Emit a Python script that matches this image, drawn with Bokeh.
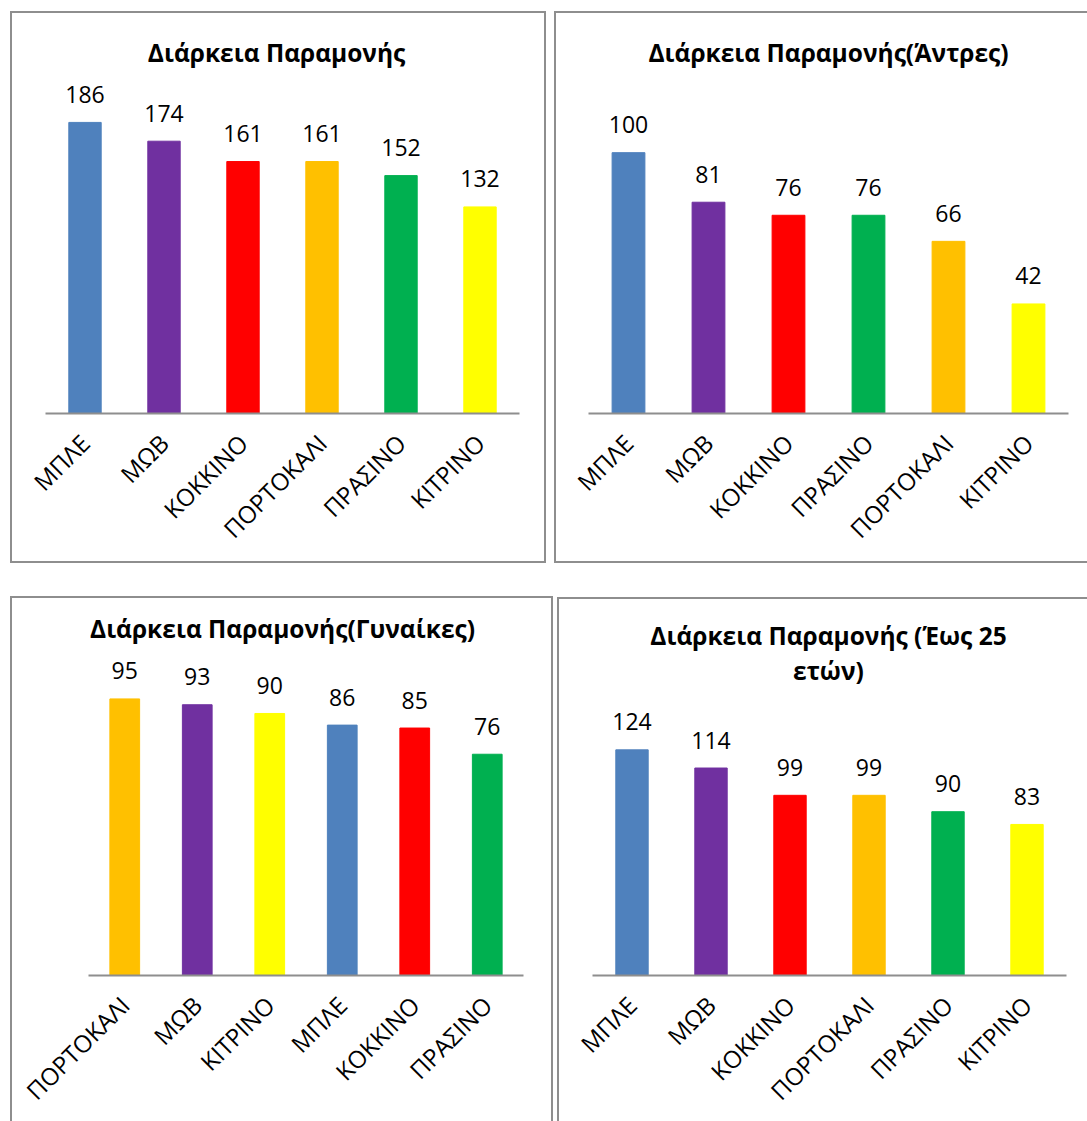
import math

from bokeh.core.properties import value
from bokeh.embed import file_html
from bokeh.layouts import column, row
from bokeh.models import ColumnDataSource, FactorRange, Label, Range1d
from bokeh.plotting import figure
from bokeh.resources import INLINE

FONT = "Open Sans"
EDGE = "2px solid #8e8e8e"

# colour of each category name
colour_names = ["ΜΠΛΕ", "ΜΩΒ", "ΚΟΚΚΙΝΟ", "ΠΟΡΤΟΚΑΛΙ", "ΠΡΑΣΙΝΟ", "ΚΙΤΡΙΝΟ"]
colour_hex = ["#4F81BD", "#7030A0", "#FF0000", "#FFC000", "#00B050", "#FFFF00"]
palette = dict(zip(colour_names, colour_hex))

# total
all_title = "Διάρκεια Παραμονής"
all_cats = ["ΜΠΛΕ", "ΜΩΒ", "ΚΟΚΚΙΝΟ", "ΠΟΡΤΟΚΑΛΙ", "ΠΡΑΣΙΝΟ", "ΚΙΤΡΙΝΟ"]
all_vals = [186, 174, 161, 161, 152, 132]

# men
men_title = "Διάρκεια Παραμονής(Άντρες)"
men_cats = ["ΜΠΛΕ", "ΜΩΒ", "ΚΟΚΚΙΝΟ", "ΠΡΑΣΙΝΟ", "ΠΟΡΤΟΚΑΛΙ", "ΚΙΤΡΙΝΟ"]
men_vals = [100, 81, 76, 76, 66, 42]

# women
women_title = "Διάρκεια Παραμονής(Γυναίκες)"
women_cats = ["ΠΟΡΤΟΚΑΛΙ", "ΜΩΒ", "ΚΙΤΡΙΝΟ", "ΜΠΛΕ", "ΚΟΚΚΙΝΟ", "ΠΡΑΣΙΝΟ"]
women_vals = [95, 93, 90, 86, 85, 76]

# up to 25 years old
young_title = "Διάρκεια Παραμονής (Έως 25\nετών)"
young_cats = ["ΜΠΛΕ", "ΜΩΒ", "ΚΟΚΚΙΝΟ", "ΠΟΡΤΟΚΑΛΙ", "ΠΡΑΣΙΝΟ", "ΚΙΤΡΙΝΟ"]
young_vals = [124, 114, 99, 99, 90, 83]


def panel(title, cats, vals, axis_max, axis_px, size, frame, title_pos,
          title_baseline, margin):
    width, height = size
    left, right, bottom = frame
    # the frame reaches the top of the canvas so the title fits inside it;
    # axis_max spans axis_px pixels above the baseline
    y_end = axis_max * (height - bottom) / axis_px
    p = figure(
        x_range=FactorRange(*cats, range_padding=0),
        y_range=Range1d(0, y_end),
        width=width, height=height,
        min_border_left=left, min_border_right=right,
        min_border_top=0, min_border_bottom=bottom,
        output_backend="svg", toolbar_location=None, tools="",
        background_fill_color="white", border_fill_color="white",
    )
    p.title.visible = False
    p.outline_line_color = None
    p.xgrid.visible = False
    p.ygrid.visible = False
    p.yaxis.visible = False

    src = ColumnDataSource(dict(
        cat=cats, val=vals,
        colour=[palette[c] for c in cats],
        label=[str(v) for v in vals],
    ))
    p.vbar(x="cat", top="val", width=0.41, color="colour", source=src)
    p.text(x="cat", y="val", text="label", source=src,
           text_align="center", text_baseline="alphabetic", y_offset=-28,
           text_font=value(FONT), text_font_size="23px", text_color="black")

    ax = p.xaxis[0]
    ax.axis_line_color = "#8e8e8e"
    ax.axis_line_width = 2
    ax.major_tick_line_color = None
    ax.minor_tick_line_color = None
    ax.major_label_orientation = math.pi / 4
    ax.major_label_standoff = 19
    ax.major_label_text_font = FONT
    ax.major_label_text_font_size = "24px"
    ax.major_label_text_color = "black"

    tx, ty = title_pos
    p.add_layout(Label(
        x=tx, y=ty, x_units="screen", y_units="screen", text=title,
        text_align="center", text_baseline=title_baseline,
        text_font=FONT, text_font_size="24.5px", text_font_style="bold",
        text_color="black", text_line_height=1.08,
    ))

    p.styles = {"outline": EDGE}
    p.margin = margin
    return p


p1 = panel(all_title, all_cats, all_vals, 200, 313,
           (532, 548), (33, 25, 148), (231, 361), "alphabetic",
           (13, 0, 0, 12))
p2 = panel(men_title, men_cats, men_vals, 120, 313,
           (531, 548), (32, 19, 148), (240, 361), "alphabetic",
           (13, 0, 0, 12))
p3 = panel(women_title, women_cats, women_vals, 100, 295,
           (539, 523), (76, 28, 141), (194, 347), "alphabetic",
           (37, 0, 0, 12))
p4 = panel(young_title, young_cats, young_vals, 140, 257.5,
           (528, 522), (33, 21, 142), (236, 357), "top",
           (38, 0, 0, 8))

layout = column(row(p1, p2), row(p3, p4))

with open("out.html", "w") as f:
    f.write(file_html(layout, INLINE))
